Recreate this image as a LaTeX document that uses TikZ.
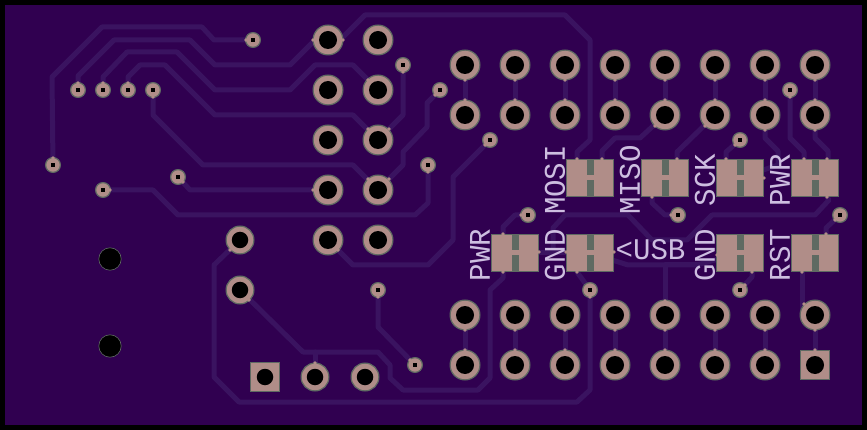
\documentclass[tikz,border=0pt]{standalone}
\usepackage{fontspec}
\usetikzlibrary{calc}
\newfontfamily\silkf[FakeStretch=0.97]{Liberation Mono}
\definecolor{boardc}{HTML}{300050}
\definecolor{tracec}{HTML}{3A1360}
\definecolor{padc}{HTML}{B08D88}
\definecolor{edgec}{HTML}{5F6A62}
\definecolor{silkc}{HTML}{CDBEE0}
\pgfdeclarelayer{bglayer}
\pgfsetlayers{bglayer,main}
\tikzset{
  thruring/.style={circle,draw=edgec,fill=padc,line width=1.2pt,inner sep=0pt,minimum size=29.8pt},
  smallring/.style={thruring,minimum size=27.8pt},
  squarering/.style={rectangle,draw=edgec,fill=padc,line width=1.2pt,inner sep=0pt,minimum size=29pt},
  bighole/.style={circle,fill=black,inner sep=0pt,minimum size=18pt},
  midhole/.style={circle,fill=black,inner sep=0pt,minimum size=16.5pt},
  viaring/.style={circle,draw=edgec,fill=padc,line width=1.2pt,inner sep=0pt,minimum size=14.8pt},
  viahole/.style={rectangle,fill=black,inner sep=0pt,minimum size=4.5pt},
  mounthole/.style={circle,draw=edgec,fill=black,line width=.6pt,inner sep=0pt,minimum size=22.4pt},
  smdbox/.style={rectangle,draw=edgec,fill=padc,line width=1.3pt,inner sep=0pt,minimum width=46.7pt,minimum height=36.7pt},
  trace/.style={draw=tracec,line width=5pt,line join=round,line cap=round},
  silk/.style={text=silkc,inner sep=0pt,font=\silkf\fontsize{30}{30}\selectfont},
}
\newcommand{\thpad}[3]{\node[thruring] (#1) at (#2,#3) {}; \node[bighole] (#1h) at (#1.center) {};}
\newcommand{\smpad}[3]{\node[smallring] (#1) at (#2,#3) {}; \node[midhole] (#1h) at (#1.center) {};}
\newcommand{\viapad}[3]{\node[viaring] (#1) at (#2,#3) {}; \node[viahole] (#1h) at (#1.center) {};}
\newcommand{\smdpad}[3]{\node[smdbox] (#1) at (#2,#3) {};
  \fill[edgec] ($(#1.center)+(-3.5,-19)$) rectangle ($(#1.center)+(3.5,-3)$);
  \fill[edgec] ($(#1.center)+(-3.5,2)$) rectangle ($(#1.center)+(3.5,19)$);}
\begin{document}
\begin{tikzpicture}[x=1pt,y=-1pt]
\useasboundingbox (0,0) rectangle (867,430);
% headers
\foreach \n/\x in {1/465,2/515,3/565,4/615,5/665,6/715,7/765,8/815}{
  \thpad{a\n}{\x}{65}
  \thpad{b\n}{\x}{115}
  \thpad{c\n}{\x}{315}
}
\foreach \n/\x in {1/465,2/515,3/565,4/615,5/665,6/715,7/765}{
  \thpad{d\n}{\x}{365}
}
\node[squarering] (d8) at (815,365) {};
\node[bighole] (d8h) at (d8.center) {};
\foreach \n/\y in {1/40,2/90,3/140,4/190,5/240}{
  \thpad{L\n}{328}{\y}
  \thpad{R\n}{378}{\y}
}
\smpad{P1}{240}{240}
\smpad{P2}{240}{290}
\node[squarering] (S1) at (265,377) {};
\node[midhole] (S1h) at (S1.center) {};
\smpad{S2}{315}{377}
\smpad{S3}{365}{377}
% vias
\viapad{v1}{253}{40}
\viapad{v2}{78}{90}
\viapad{v3}{103}{90}
\viapad{v4}{128}{90}
\viapad{v5}{153}{90}
\viapad{v6}{53}{165}
\viapad{v7}{103}{190}
\viapad{v8}{178}{177}
\viapad{v9}{403}{65}
\viapad{v10}{440}{90}
\viapad{v11}{490}{140}
\viapad{v12}{428}{165}
\viapad{v13}{528}{215}
\viapad{v14}{678}{215}
\viapad{v15}{790}{90}
\viapad{v16}{740}{140}
\viapad{v17}{840}{215}
\viapad{v18}{378}{290}
\viapad{v19}{415}{365}
\viapad{v20}{590}{290}
\viapad{v21}{740}{290}
% mounting holes
\node[mounthole] (m1) at (110,259) {};
\node[mounthole] (m2) at (110,346) {};
% jumpers
\smdpad{J1}{590}{178}
\smdpad{J2}{665}{178}
\smdpad{J3}{740}{178}
\smdpad{J4}{815}{178}
\smdpad{J5}{515}{253}
\smdpad{J6}{590}{253}
\smdpad{J7}{740}{253}
\smdpad{J8}{815}{253}
% where a trace enters a pad the edge is interrupted
\foreach \n/\x in {1/465,2/515,3/565,4/615,5/665,6/715,7/765,8/815}{
  \fill[padc] (\x,80) circle (1.9);
  \fill[padc] (\x,100) circle (1.9);
  \fill[padc] (\x,330) circle (1.9);
  \fill[padc] (\x,350) circle (1.9);
}
\foreach \x/\y in {313/40,343/40,368/80,368/129,389/129,368/179,389/179,313/190,338/250,249/300,230/250,315/363,
  655/126,705/126,765/130,815/130,665/301,804/304,
  78/83,103/83,128/83,153/97,53/158,110/190,183/182,246/40,403/72,435/95,485/145,428/172,521/215,671/215,790/97,735/145,835/220,378/297,410/360,590/297,745/285,
  577/159,602/159,652/197,677/159,726/159,804/159,827/159,827/197,503/234,503/272,539/252,566/252,614/252,577/272,752/272,717/255,802/272,826/234,764/178}{
  \fill[padc] (\x,\y) circle (1.8);
}
% silk
\node[silk,rotate=90] (tMOSI) at (555,180) {MOSI};
\node[silk,rotate=90] (tMISO) at (630,180) {MISO};
\node[silk,rotate=90] (tSCK) at (705,180) {SCK};
\node[silk,rotate=90] (tPWRa) at (780,180) {PWR};
\node[silk,rotate=90] (tPWRb) at (480,255) {PWR};
\node[silk,rotate=90] (tGNDa) at (555,255) {GND};
\node[silk,rotate=90] (tGNDb) at (705,255) {GND};
\node[silk,rotate=90] (tRST) at (780,255) {RST};
\node[silk] (tUSB) at (650.5,250) {<USB};
% board and traces
\begin{pgfonlayer}{bglayer}
\fill[black] (0,0) rectangle (867,430);
\fill[boardc] (5,5) rectangle (862,425);
\foreach \n in {1,...,8}{
  \draw[trace] (a\n.center) -- (b\n.center);
  \draw[trace] (c\n.center) -- (d\n.center);
}
\draw[trace] (v1.center) -- (214,40) -- (202,27) -- (102,27) -- (52,77) -- (v6.center);
\draw[trace] (v2.center) -- (78,76) -- (114,40) -- (190,40) -- (215,65) -- (290,65) -- (315,40) -- (L1.center) -- (340,40) -- (365,15) -- (565,15) -- (590,40) -- (590,140) -- (577,152) -- ($(J1.center)+(-13,-19)$);
\draw[trace] (v3.center) -- (103,77) -- (127,52) -- (177,52) -- (215,90) -- (290,90) -- (315,65) -- (353,65) -- (R2.center);
\draw[trace] (v4.center) -- (128,77) -- (140,65) -- (165,65) -- (215,115) -- (353,115) -- (R3.center);
\draw[trace] (v9.center) -- (403,115) -- (R3.center);
\draw[trace] (v5.center) -- (153,115) -- (203,165) -- (353,165) -- (R4.center);
\draw[trace] (v10.center) -- (427,103) -- (427,127) -- (403,152) -- (403,165) -- (R4.center);
\draw[trace] (v8.center) -- (190,190) -- (L4.center);
\draw[trace] (v7.center) -- (153,190) -- (178,215) -- (415,215) -- (428,203) -- (v12.center);
\draw[trace] (v11.center) -- (453,177) -- (453,240) -- (428,265) -- (353,265) -- (L5.center);
\draw[trace] (P1.center) -- (214,265) -- (214,377) -- (239,402) -- (577,402) -- (590,390) -- (v20.center);
\draw[trace] (P2.center) -- (303,352) -- (378,352) -- (390,365) -- (390,378) -- (403,390) -- (478,390) -- (490,378) -- (490,290) -- (503,278) -- ($(J5.center)+(-12,19)$);
\draw[trace] (S2.center) -- (315,352);
\draw[trace] (v18.center) -- (378,327) -- (v19.center);
\draw[trace] ($(J5.center)+(-12,-19)$) -- (503,227) -- (515,215) -- (v13.center);
\draw[trace] (J5.center) -- (J6.center);
\draw[trace] (553,252) -- (553,228) -- (565,215) -- (628,215) -- (652,240) -- (687,240) -- (712,215) -- (815,215) -- (829,200) -- ($(J4.center)+(12,19)$);
\draw[trace] (J6.center) -- (628,265) -- (697,265) -- (J7.center);
\draw[trace] (697,265) -- (665,265) -- (b5.center |- c5.center);
\draw[trace] ($(J6.center)+(-13,19)$) -- (v20.center);
\draw[trace] (b7.center) -- (765,138) -- (778,151) -- (778,165) -- (J3.center);
\draw[trace] (v15.center) -- (790,138) -- (804,152) -- ($(J4.center)+(-11,-19)$);
\draw[trace] (b8.center) -- (815,138) -- (828,151) -- ($(J4.center)+(13,-19)$);
\draw[trace] (v16.center) -- (726,152) -- ($(J3.center)+(-14,-19)$);
\draw[trace] (b6.center) -- (677,152) -- ($(J2.center)+(12,-19)$);
\draw[trace] (b5.center) -- (640,138) -- (615,138) -- (602,151) -- ($(J1.center)+(12,-19)$);
\draw[trace] ($(J2.center)+(-13,19)$) -- (652,203) -- (665,215) -- (v14.center);
\draw[trace] (v17.center) -- (826,228) -- ($(J8.center)+(11,-19)$);
\draw[trace] ($(J8.center)+(-13,19)$) -- (802,315);
\draw[trace] ($(J7.center)+(12,19)$) -- (752,277) -- (v21.center);
\end{pgfonlayer}
\end{tikzpicture}
\end{document}
